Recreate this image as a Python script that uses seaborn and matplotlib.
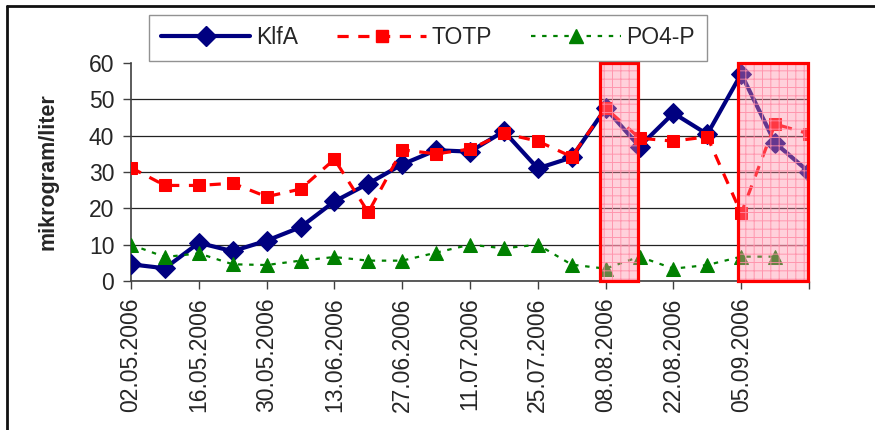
import numpy as np
import pandas as pd
import matplotlib
matplotlib.use("Agg")
import matplotlib.pyplot as plt
import matplotlib.dates as mdates
from matplotlib.patches import Rectangle
from matplotlib.lines import Line2D
import seaborn as sns

# sampling dates (weekly)
dates = ["02.05.2006", "09.05.2006", "16.05.2006", "23.05.2006", "30.05.2006",
         "06.06.2006", "13.06.2006", "20.06.2006", "27.06.2006", "04.07.2006",
         "11.07.2006", "18.07.2006", "25.07.2006", "01.08.2006", "08.08.2006",
         "15.08.2006", "22.08.2006", "29.08.2006", "05.09.2006", "12.09.2006",
         "19.09.2006"]
klfa = [4.6, 3.5, 10.5, 8.2, 11.1, 14.8, 21.9, 26.8, 32.1, 36.0, 35.6,
        41.2, 31.0, 34.0, 47.5, 37.0, 46.2, 40.4, 57.0, 38.0, 30.0]
totp = [31.2, 26.3, 26.3, 26.9, 23.2, 25.3, 33.5, 18.9, 36.1, 35.0, 36.3,
        40.6, 38.5, 34.2, 47.6, 39.3, 38.5, 39.7, 18.6, 43.2, 40.5]
po4p = [10.0, 6.6, 7.6, 4.6, 4.4, 5.6, 6.6, 5.6, 5.6, 7.8, 10.0,
        9.0, 10.0, 4.5, 3.4, 6.7, 3.4, 4.4, 6.7, 6.7, np.nan]

# tick labels every second week, last tick unlabeled
tick_dates = ["02.05.2006", "16.05.2006", "30.05.2006", "13.06.2006", "27.06.2006",
              "11.07.2006", "25.07.2006", "08.08.2006", "22.08.2006", "05.09.2006",
              "19.09.2006"]
tick_labels = tick_dates[:-1] + [""]

# highlighted periods
highlights = [("06.08.2006 22:00", "14.08.2006 16:00"), ("04.09.2006 06:00", "18.09.2006 20:00")]

df = pd.DataFrame({
    "date": pd.to_datetime(dates, format="%d.%m.%Y"),
    "KlfA": klfa,
    "TOTP": totp,
    "PO4-P": po4p,
})

sns.set_style("white")
plt.rcParams["font.family"] = ["Liberation Sans", "DejaVu Sans"]
plt.rcParams["hatch.linewidth"] = 0.7

fig = plt.figure(figsize=(8.75, 4.3), dpi=100)
ax = fig.add_axes([131 / 875, 1 - 281 / 430, (809 - 131) / 875, (281 - 63) / 430])

sns.lineplot(data=df, x="date", y="KlfA", ax=ax, color="#000080", lw=3,
             marker="D", markersize=10, markeredgecolor="#000080", zorder=3)
sns.lineplot(data=df, x="date", y="TOTP", ax=ax, color="#FF0000", lw=2.3,
             linestyle=(0, (3.5, 3)), marker="s", markersize=9,
             markeredgecolor="#FF0000", zorder=4)
sns.lineplot(data=df, x="date", y="PO4-P", ax=ax, color="#008000", lw=1.6,
             linestyle=(0, (2, 3)), marker="^", markersize=10,
             markeredgecolor="#008000", zorder=5)

# shaded periods
for start, end in highlights:
    x0 = mdates.date2num(pd.to_datetime(start, format="%d.%m.%Y %H:%M"))
    x1 = mdates.date2num(pd.to_datetime(end, format="%d.%m.%Y %H:%M"))
    ax.add_patch(Rectangle((x0, 0), x1 - x0, 60, facecolor=(1.0, 0.55, 0.65, 0.4),
                           edgecolor=(1.0, 0.55, 0.65, 0.85), hatch="++", lw=0,
                           zorder=6, clip_on=False))
    ax.add_patch(Rectangle((x0, 0), x1 - x0, 60, fill=False, edgecolor="#FF0000",
                           lw=2.3, zorder=7, clip_on=False))

ax.set_xlim(df["date"].iloc[0], df["date"].iloc[-1])
ax.set_ylim(0, 60)
ax.set_yticks([0, 10, 20, 30, 40, 50, 60])
ticks = pd.to_datetime(tick_dates, format="%d.%m.%Y")
ax.set_xticks(ticks)
ax.set_xticklabels(tick_labels, rotation=90, fontsize=16.5)
ax.tick_params(axis="y", labelsize=16.5)
ax.tick_params(axis="both", direction="out", length=6, width=1, color="#404040",
               left=True, bottom=True, pad=6)
ax.yaxis.grid(True, color="#222222", lw=0.9)
ax.get_ygridlines()[-1].set_visible(False)
ax.set_axisbelow(True)
for side in ["top", "right"]:
    ax.spines[side].set_visible(False)
for side in ["left", "bottom"]:
    ax.spines[side].set_color("#404040")
    ax.spines[side].set_linewidth(1.2)

ax.set_xlabel("")
ax.set_ylabel("mikrogram/liter", fontsize=15.5, fontweight="bold", labelpad=22)

handles = [
    Line2D([], [], color="#000080", lw=3, marker="D", markersize=10),
    Line2D([], [], color="#FF0000", lw=2.3, linestyle=(0, (3.5, 3)), marker="s", markersize=9),
    Line2D([], [], color="#008000", lw=1.6, linestyle=(0, (2, 3)), marker="^", markersize=10),
]
leg = fig.legend(handles, ["KlfA", "TOTP", "PO4-P"], ncol=3, loc="center",
                 bbox_to_anchor=(428 / 875, 1 - 38 / 430), fontsize=16.5,
                 frameon=True, fancybox=False, edgecolor="#777777",
                 handlelength=3.9, handletextpad=0.25, columnspacing=1.7,
                 borderpad=0.5, numpoints=1)
leg.get_frame().set_linewidth(1.0)

# outer chart frame (left and top edges)
fig.add_artist(Line2D([7 / 875, 7 / 875], [0, 1 - 6 / 430], color="#111111", lw=2))
fig.add_artist(Line2D([7 / 875, 1], [1 - 6 / 430, 1 - 6 / 430], color="#111111", lw=2))

fig.savefig("out.png", dpi=100)
